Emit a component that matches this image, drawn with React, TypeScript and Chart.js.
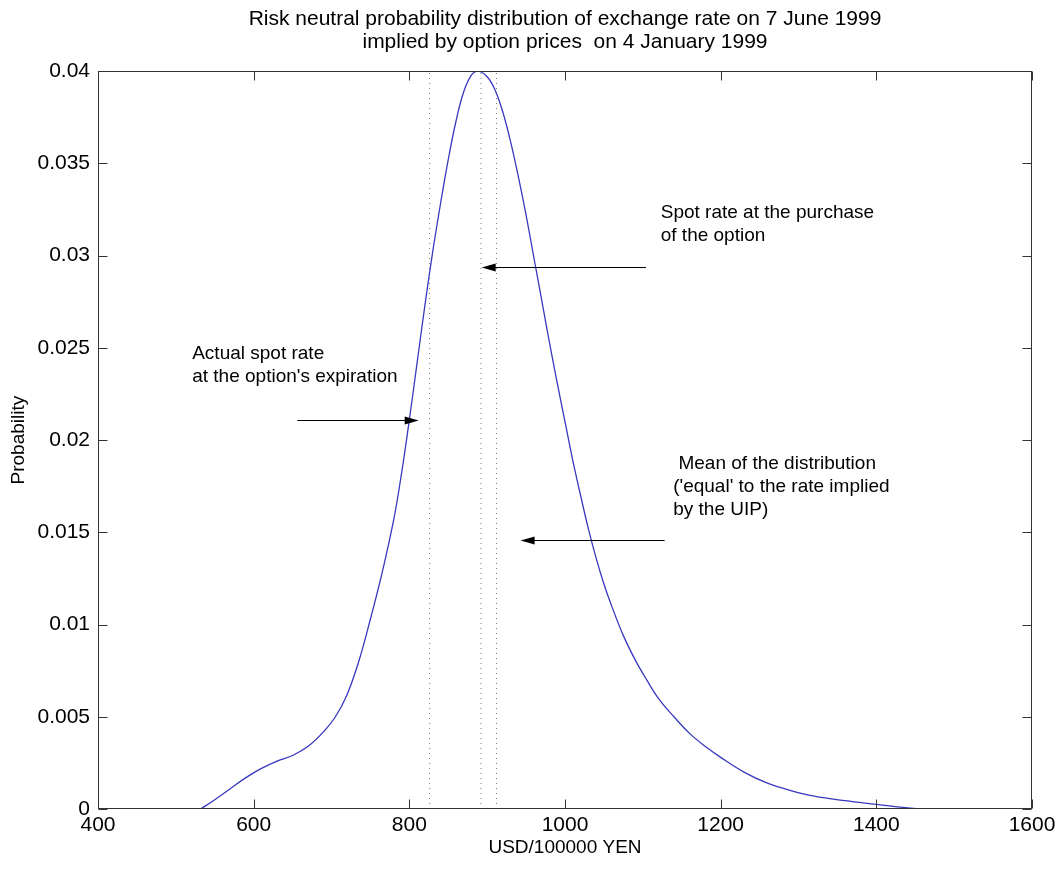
import React, { useEffect, useRef } from 'react';
import { Chart, registerables } from 'chart.js';

Chart.register(...registerables);

const FONT = '"Liberation Sans", Arial, Helvetica, sans-serif';

const titleLines = [
  'Risk neutral probability distribution of exchange rate on 7 June 1999',
  'implied by option prices  on 4 January 1999',
];
const xAxisTitle = 'USD/100000 YEN';
const yAxisTitle = 'Probability';

const xTickValues = [400, 600, 800, 1000, 1200, 1400, 1600];
const yTickLabels = ['0', '0.005', '0.01', '0.015', '0.02', '0.025', '0.03', '0.035', '0.04'];

// density curve
const curveX = [
  532, 550, 570, 590, 610, 630, 650, 670, 690, 705, 720, 735, 750, 765, 780, 790, 800, 810, 820, 830,
  840, 850, 860, 870, 880, 889, 900, 910, 920, 930, 940, 950, 960, 970, 980, 990, 1000, 1010, 1020,
  1030, 1040, 1050, 1060, 1075, 1090, 1105, 1120, 1140, 1160, 1180, 1200, 1230, 1260, 1290, 1320,
  1360, 1400, 1430, 1457,
];
const curveY = [
  0, 0.0005, 0.0011, 0.0017, 0.0022, 0.0026, 0.0029, 0.0034, 0.0042, 0.005, 0.0062, 0.008, 0.0103,
  0.0128, 0.0157, 0.0182, 0.0211, 0.0242, 0.0273, 0.0302, 0.0328, 0.0352, 0.0373, 0.0389, 0.0398, 0.04,
  0.0397, 0.039, 0.0378, 0.0362, 0.0343, 0.0322, 0.0299, 0.0276, 0.0253, 0.0231, 0.021, 0.0189, 0.017,
  0.0152, 0.0136, 0.0122, 0.011, 0.0094, 0.0081, 0.007, 0.006, 0.005, 0.0041, 0.0034, 0.0028, 0.002,
  0.0014, 0.001, 0.0007, 0.00045, 0.00025, 0.0001, 0,
];

// dotted vertical markers: actual spot at expiration, spot at purchase, mean
const markerX = [826, 892, 912];
const markerBottom = 0;
const markerTop = 0.04;

// arrows (data units)
const arrowFromX = [656, 1104, 1128];
const arrowToX = [812, 893, 943];
const arrowY = [0.0211, 0.0294, 0.0146];

// annotation texts and their anchors (data units, first line)
const noteLines = [
  ['Actual spot rate', "at the option's expiration"],
  ['Spot rate at the purchase', 'of the option'],
  [' Mean of the distribution', "('equal' to the rate implied", 'by the UIP)'],
];
const noteX = [521, 1123, 1139];
const noteY = [0.0247, 0.0323, 0.0187];

const decorPlugin = {
  id: 'decor',
  afterDraw(chart: any) {
    const { ctx, chartArea: a, scales } = chart;
    const x = scales.x;
    const y = scales.y;
    ctx.save();
    // box
    ctx.strokeStyle = '#333';
    ctx.lineWidth = 1;
    const L = Math.round(a.left) + 0.5;
    const R = Math.round(a.right) - 0.5;
    const T = Math.round(a.top) + 0.5;
    const B = Math.round(a.bottom) - 0.5;
    ctx.strokeRect(L, T, R - L, B - T);
    // inward ticks
    const tl = 9;
    ctx.beginPath();
    x.ticks.forEach((t: any) => {
      const px = Math.round(x.getPixelForValue(t.value)) + 0.5;
      ctx.moveTo(px, B);
      ctx.lineTo(px, B - tl);
      ctx.moveTo(px, T);
      ctx.lineTo(px, T + tl);
    });
    y.ticks.forEach((t: any) => {
      const py = Math.round(y.getPixelForValue(t.value)) + 0.5;
      ctx.moveTo(L, py);
      ctx.lineTo(L + tl, py);
      ctx.moveTo(R, py);
      ctx.lineTo(R - tl, py);
    });
    ctx.stroke();

    // arrows
    ctx.strokeStyle = '#000';
    ctx.fillStyle = '#000';
    for (let i = 0; i < arrowFromX.length; i++) {
      const x0 = x.getPixelForValue(arrowFromX[i]);
      const x1 = x.getPixelForValue(arrowToX[i]);
      const yy = Math.round(y.getPixelForValue(arrowY[i])) + 0.5;
      const dir = Math.sign(x1 - x0);
      ctx.beginPath();
      ctx.moveTo(x0, yy);
      ctx.lineTo(x1 - dir * 10, yy);
      ctx.stroke();
      ctx.beginPath();
      ctx.moveTo(x1, yy);
      ctx.lineTo(x1 - dir * 14, yy - 4);
      ctx.lineTo(x1 - dir * 14, yy + 4);
      ctx.closePath();
      ctx.fill();
    }

    // notes
    ctx.font = `19px ${FONT}`;
    ctx.textAlign = 'left';
    ctx.textBaseline = 'middle';
    ctx.fillStyle = '#000';
    for (let i = 0; i < noteLines.length; i++) {
      const px = x.getPixelForValue(noteX[i]);
      const py = y.getPixelForValue(noteY[i]);
      noteLines[i].forEach((line, k) => {
        ctx.fillText(line, px, py + k * 23);
      });
    }
    ctx.restore();
  },
};

export default function App() {
  const ref = useRef<HTMLCanvasElement | null>(null);
  useEffect(() => {
    if (!ref.current) return;
    const datasets: any[] = [
      {
        data: curveX.map((v, i) => ({ x: v, y: curveY[i] })),
        borderColor: '#3838c0',
        borderWidth: 1.3,
        pointRadius: 0,
        tension: 0.4,
        fill: false,
      },
      ...markerX.map((v) => ({
        data: [
          { x: v, y: markerBottom },
          { x: v, y: markerTop },
        ],
        borderColor: '#7a7a7a',
        borderWidth: 1,
        borderDash: [1, 4],
        pointRadius: 0,
        tension: 0,
        fill: false,
      })),
    ];
    const chart = new Chart(ref.current, {
      type: 'line',
      data: { datasets },
      plugins: [decorPlugin],
      options: {
        responsive: false,
        animation: false,
        events: [],
        layout: { padding: { left: 0, right: 32, top: 0, bottom: 0 } },
        plugins: {
          legend: { display: false },
          tooltip: { enabled: false },
          title: {
            display: true,
            text: titleLines,
            fullSize: false,
            color: '#000',
            font: { family: FONT, size: 21, weight: 'normal', lineHeight: 1.1 },
            padding: { top: 8, bottom: 17 },
          },
        },
        scales: {
          x: {
            type: 'linear',
            min: 400,
            max: 1600,
            afterBuildTicks: (s: any) => {
              s.ticks = xTickValues.map((v) => ({ value: v }));
            },
            ticks: {
              color: '#000',
              font: { family: FONT, size: 21 },
              padding: 4,
              maxRotation: 0,
              autoSkip: false,
              callback: (v: any) => String(v),
            },
            grid: { display: false, drawTicks: false },
            border: { display: false },
            title: {
              display: true,
              text: xAxisTitle,
              color: '#000',
              font: { family: FONT, size: 19 },
              padding: { top: 0, bottom: 11 },
            },
            afterFit: (s: any) => {
              s.height = 61;
            },
          },
          y: {
            type: 'linear',
            min: 0,
            max: 0.04,
            afterBuildTicks: (s: any) => {
              s.ticks = yTickLabels.map((l) => ({ value: parseFloat(l) }));
            },
            ticks: {
              color: '#000',
              font: { family: FONT, size: 21 },
              padding: 8,
              autoSkip: false,
              callback: (_v: any, i: number) => yTickLabels[i],
            },
            grid: { display: false, drawTicks: false },
            border: { display: false },
            title: {
              display: true,
              text: yAxisTitle,
              color: '#000',
              font: { family: FONT, size: 19 },
              padding: { top: 7, bottom: 0 },
            },
            afterFit: (s: any) => {
              s.width = 98;
            },
          },
        },
      },
    });
    return () => chart.destroy();
  }, []);
  return (
    <div style={{ position: 'absolute', left: 0, top: 0, width: 1064, height: 870, background: '#fff' }}>
      <canvas ref={ref} width={1064} height={870} style={{ display: 'block' }} />
    </div>
  );
}
